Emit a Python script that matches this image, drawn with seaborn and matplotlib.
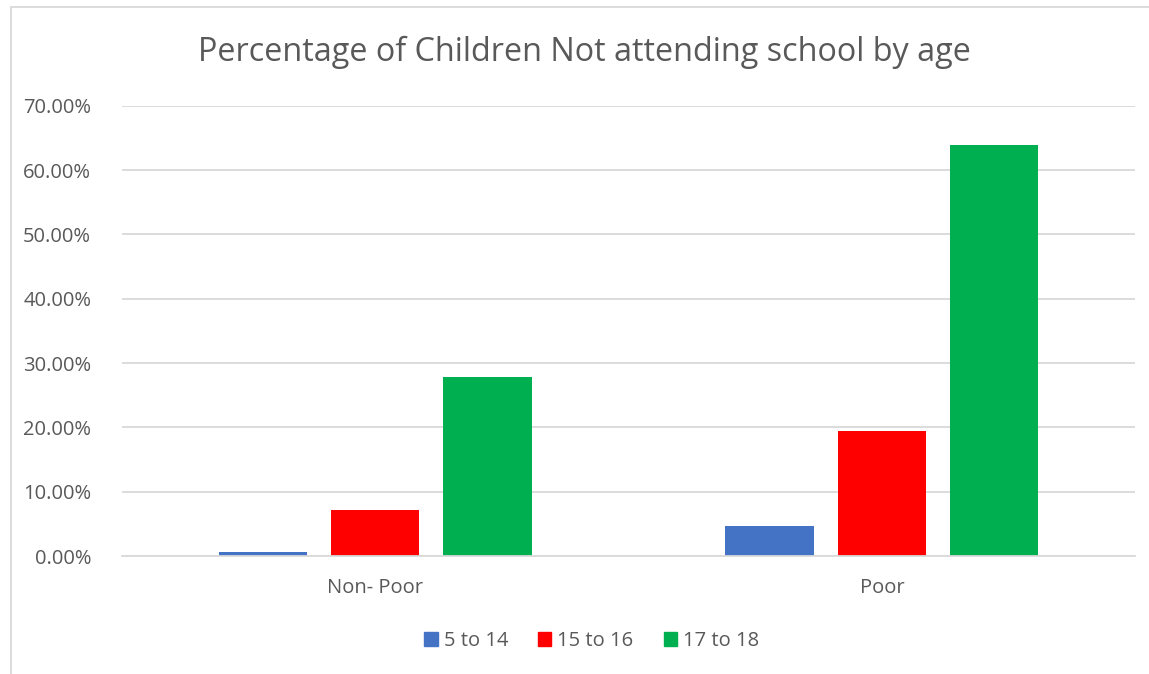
import matplotlib
matplotlib.use("Agg")
import matplotlib.pyplot as plt
import matplotlib.patches as mpatches
from matplotlib.ticker import FuncFormatter
import seaborn as sns
import pandas as pd

# Data: share of children not attending school, by poverty status and age group
groups = ["Non- Poor", "Poor"]
age_bands = ["5 to 14", "15 to 16", "17 to 18"]
share_5_14 = [0.0065, 0.046]
share_15_16 = [0.071, 0.195]
share_17_18 = [0.279, 0.639]

colors = ["#4472C4", "#FF0000", "#00B050"]
text_color = "#595959"
grid_color = "#D9D9D9"

df = pd.DataFrame({
    "group": groups * 3,
    "age": [a for a in age_bands for _ in groups],
    "share": share_5_14 + share_15_16 + share_17_18,
})

sns.set_theme(style="white")
plt.rcParams["font.family"] = ["Open Sans", "DejaVu Sans"]

fig = plt.figure(figsize=(11.49, 6.74), dpi=100)
ax = fig.add_axes([0.106, 0.175, 0.882, 0.668])

sns.barplot(
    data=df, x="group", y="share", hue="age",
    order=groups, hue_order=age_bands, palette=colors,
    width=0.665, gap=0.215, dodge=True, legend=False, ax=ax,
    saturation=1, edgecolor="none", errorbar=None,
)

ax.set_xlim(-0.5, 1.5)
ax.set_ylim(0, 0.7)
ax.set_yticks([i / 10 for i in range(8)])
ax.yaxis.set_major_formatter(FuncFormatter(lambda v, _: f"{v * 100:.2f}%"))
ax.yaxis.grid(True, color=grid_color, linewidth=1.3)
ax.set_axisbelow(True)
for side in ["top", "right", "left"]:
    ax.spines[side].set_visible(False)
ax.spines["bottom"].set_color(grid_color)
ax.spines["bottom"].set_linewidth(1.3)
ax.tick_params(axis="both", length=0, labelsize=14.5, labelcolor=text_color)
ax.tick_params(axis="y", pad=22)
ax.tick_params(axis="x", pad=16)
ax.set_xlabel("")
ax.set_ylabel("")

fig.text(0.509, 0.922, "Percentage of Children Not attending school by age",
         ha="center", va="center", fontsize=23.3, color=text_color)

handles = [mpatches.Patch(color=c, label=a) for c, a in zip(colors, age_bands)]
fig.legend(handles=handles, loc="center", bbox_to_anchor=(0.515, 0.049), ncol=3,
           frameon=False, fontsize=14.5, labelcolor=text_color,
           handlelength=0.65, handleheight=0.65, handletextpad=0.3, columnspacing=1.5)

# Chart area outline
fig.patches.append(mpatches.Rectangle((0.0096, -0.01), 1.2, 1.0, transform=fig.transFigure,
                                      fill=False, edgecolor=grid_color, linewidth=1.3))

fig.savefig("out.png", dpi=100)
